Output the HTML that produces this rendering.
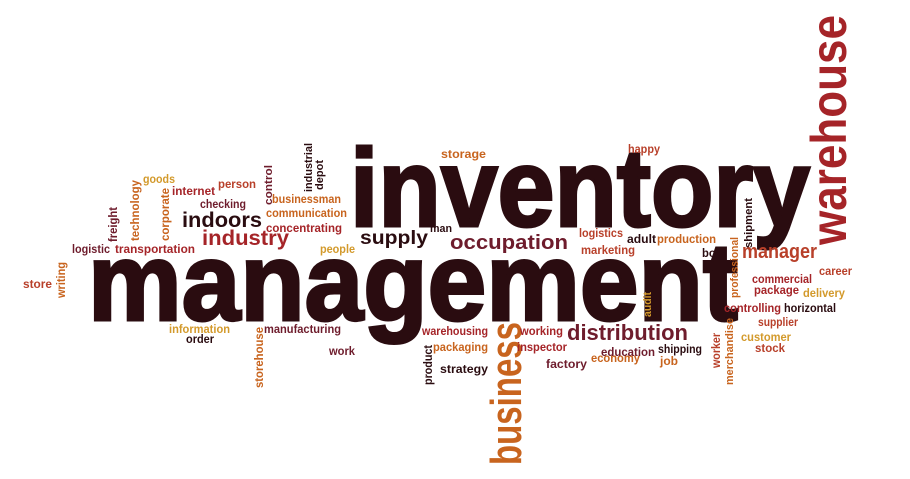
<!DOCTYPE html>
<html><head><meta charset="utf-8"><style>
html,body{margin:0;padding:0;background:#fff;width:910px;height:479px;overflow:hidden}
svg{display:block}
text{font-family:"Liberation Sans",sans-serif;font-weight:bold}
</style></head><body>
<svg id="cloud" width="910" height="479" viewBox="0 0 910 479"></svg>
<script>
const D='#2a0c10',R='#a52428',O='#c8641e',G='#d39a2c',M='#6e1c2c',RO='#b8402a';
// word, x, baseline y, length, font-size, color, rotated
const words=[
["inventory",350,226,460,110,D,0],
["management",88,320,650,110,D,0],
["warehouse",846,245,230,50,R,1],
["business",521,465,143,44,O,1],
["distribution",567,340,121,22,M,0],
["occupation",450,249,118,20,M,0],
["supply",360,244,68,19,D,0],
["indoors",182,227,80,21,D,0],
["industry",202,245,87,21,R,0],
["manager",742,258,75,20,RO,0],
["goods",143,183,32,12,G,0],
["internet",172,195,43,12,R,0],
["person",218,188,38,12,RO,0],
["checking",200,208,46,12,M,0],
["control",272,205,40,11,M,1],
["industrial",312,192,49,11,D,1],
["depot",323,190,30,11,D,1],
["businessman",272,203,69,12,O,0],
["communication",266,217,81,12,O,0],
["concentrating",266,232,76,12,R,0],
["freight",117,242,35,12,M,1],
["technology",139,241,61,12,O,1],
["corporate",169,241,53,12,O,1],
["logistic",72,253,38,12,M,0],
["transportation",115,253,80,12,R,0],
["people",320,253,35,12,G,0],
["store",23,288,29,12,RO,0],
["writing",65,298,36,12,O,1],
["information",169,333,61,12,G,0],
["order",186,343,28,12,D,0],
["storehouse",263,388,61,12,O,1],
["manufacturing",264,333,77,12,M,0],
["work",329,355,26,12,M,0],
["storage",441,158,45,12,O,0],
["man",430,232,22,11,D,0],
["warehousing",422,335,66,12,R,0],
["product",432,385,40,12,D,1],
["packaging",433,351,55,12,O,0],
["strategy",440,373,48,12,D,0],
["working",520,335,43,12,R,0],
["inspector",517,351,50,12,R,0],
["factory",546,368,41,12,M,0],
["economy",591,362,49,12,O,0],
["education",601,356,54,12,M,0],
["happy",628,153,32,12,RO,0],
["logistics",579,237,44,12,RO,0],
["adult",627,243,29,12,D,0],
["production",657,243,59,12,O,0],
["marketing",581,254,54,12,RO,0],
["box",702,257,20,12,D,0],
["shipment",752,248,50,11,D,1],
["professional",738,298,61,11,O,1],
["commercial",752,283,60,12,R,0],
["career",819,275,33,12,RO,0],
["package",754,294,45,12,R,0],
["delivery",803,297,42,12,G,0],
["audit",651,317,25,11,G,1],
["controlling",724,312,57,12,R,0],
["horizontal",784,312,52,12,D,0],
["supplier",758,326,40,12,RO,0],
["customer",741,341,50,12,G,0],
["stock",755,352,30,12,RO,0],
["shipping",658,353,44,12,D,0],
["job",660,365,18,12,O,0],
["worker",720,368,35,12,RO,1],
["merchandise",733,385,67,11,O,1]
];
const svg=document.getElementById('cloud');
const NS='http://www.w3.org/2000/svg';
for(const w of words){
  const t=document.createElementNS(NS,'text');
  t.textContent=w[0];
  t.setAttribute('x',w[1]);
  t.setAttribute('y',w[2]);
  t.setAttribute('font-size',w[4]);
  t.setAttribute('fill',w[5]);
  t.setAttribute('textLength',w[3]);
  t.setAttribute('lengthAdjust','spacingAndGlyphs');
  if(w[4]>100){t.setAttribute('stroke',w[5]);t.setAttribute('stroke-width','3');}
  if(w[6]) t.setAttribute('transform','rotate(-90 '+w[1]+' '+w[2]+')');
  
  
  svg.appendChild(t);
}
</script>
</body></html>
